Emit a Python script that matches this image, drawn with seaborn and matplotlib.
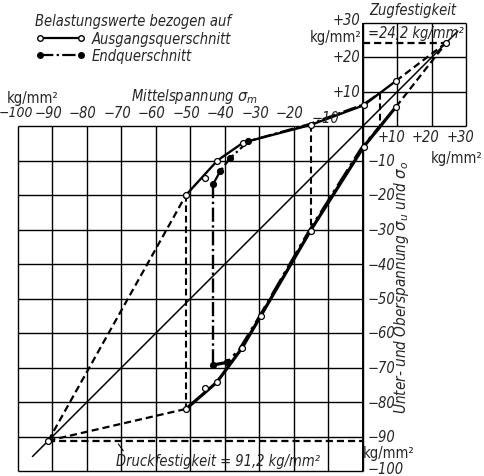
"""
Dauerfestigkeitsschaubild: Mittelspannung gegen Unter- und Oberspannung,
Belastungswerte bezogen auf Ausgangs- und Endquerschnitt.
"""

import matplotlib
matplotlib.use('Agg')
import matplotlib.pyplot as plt
from matplotlib.lines import Line2D
from matplotlib.font_manager import FontProperties
import pandas as pd
import seaborn as sns

# grid and tick values [kg/mm2]
grid_main = list(range(-100, 1, 10))
grid_box = [0, 10, 20, 30]
top_labels = [-100, -90, -80, -70, -60, -50, -40, -30, -20, -10]
right_labels = [-10, -20, -30, -40, -50, -60, -70, -80, -90, -100]
box_labels = [10, 20, 30]

druck = 91.2   # Druckfestigkeit
zug = 24.2     # Zugfestigkeit

# mean stress line
mittel = [-95.8, 27.5]

# Ausgangsquerschnitt, upper stress
aus_up_line_x = [-51.3, -42.2, -34.7, -15.2, 0.2, 9.6]
aus_up_line_y = [-20.0, -10.0, -4.8, 0.3, 6.0, 13.1]
aus_up_pts_x = [-91.2, -51.3, -45.8, -42.2, -34.7, -15.2, 0.2, 9.6, 24.2]
aus_up_pts_y = [-91.2, -20.0, -15.1, -10.0, -4.8, 0.3, 6.0, 13.1, 24.2]

# Ausgangsquerschnitt, lower stress
aus_lo_line_x = [-51.3, -42.4, -35.1, -15.2, 0.2, 9.6]
aus_lo_line_y = [-82.0, -74.3, -64.4, -30.3, -6.0, 5.6]
aus_lo_pts_x = [-51.3, -45.8, -42.4, -35.1, -29.7, -15.2, 0.2, 9.6]
aus_lo_pts_y = [-82.0, -76.0, -74.3, -64.4, -55.2, -30.3, -6.0, 5.6]

# Endquerschnitt
end_up_x = [-43.4, -41.4, -38.6, -33.2, -15.4, 0.0, 4.8]
end_up_y = [-16.8, -13.1, -9.4, -4.4, 0.6, 6.2, 9.5]
end_lo_x = [-43.6, -39.3, -35.9, -30.4, -15.9, -0.5, 4.8]
end_lo_y = [-69.3, -68.5, -65.0, -56.0, -31.0, -6.6, -0.3]
end_up_pts = 4
end_lo_pts = 2

FONT = ['DejaVu Sans']
DASH = (0, (3.2, 1.8))
DASHDOT = (0, (6, 1.5, 1, 1.5))


def line(ax, xs, ys, lw=1.6, ls='-'):
    df = pd.DataFrame({'x': xs, 'y': ys})
    sns.lineplot(x='x', y='y', data=df, sort=False, estimator=None, color='black',
                 linewidth=lw, linestyle=ls, ax=ax)


def points(ax, xs, ys, filled=False):
    df = pd.DataFrame({'x': xs, 'y': ys})
    sns.scatterplot(x='x', y='y', data=df, s=18, color='black' if filled else 'white',
                    edgecolor='black', linewidth=0.9, zorder=5, ax=ax)


def label(ax, x, y, s, size=10.5, italic=True, **kw):
    ax.text(x, y, s, fontsize=size, family=FONT, stretch='condensed',
            style='italic' if italic else 'normal', **kw)


sns.set_theme(style='white')
fig = plt.figure(figsize=(4.85, 4.77), dpi=100)
ax = fig.add_axes([0, 0, 1, 1])
ax.set_xlim(-363 / 3.45, (485 - 363) / 3.45)
ax.set_ylim((127 - 477) / 3.45, 127 / 3.45)
ax.axis('off')

# grid
ax.vlines(grid_main, -100, 0, color='black', lw=1.0)
ax.hlines(grid_main, -100, 0, color='black', lw=1.0)
ax.vlines(grid_box, 0, 30, color='black', lw=1.0)
ax.hlines(grid_box, 0, 30, color='black', lw=1.0)
ax.vlines([0], -100, 30, color='black', lw=1.4)

# mean stress line
line(ax, mittel, mittel, lw=1.1)

# Ausgangsquerschnitt
line(ax, [-druck, aus_up_line_x[0]], [-druck, aus_up_line_y[0]], ls=DASH)
line(ax, [-druck, aus_lo_line_x[0]], [-druck, aus_lo_line_y[0]], ls=DASH)
line(ax, aus_up_line_x, aus_up_line_y, lw=1.7)
line(ax, aus_lo_line_x, aus_lo_line_y, lw=2.3)
line(ax, [aus_up_line_x[-1], zug], [aus_up_line_y[-1], zug], ls=DASH)
line(ax, [aus_lo_line_x[-1], zug], [aus_lo_line_y[-1], zug], ls=DASH)
line(ax, [aus_up_line_x[0]] * 2, [aus_up_line_y[0], aus_lo_line_y[0]], lw=1.5, ls=DASH)
line(ax, [aus_up_line_x[3]] * 2, [aus_up_line_y[3], aus_lo_line_y[3]], lw=1.5, ls=DASH)
line(ax, [end_up_x[-1]] * 2, [end_up_y[-1], end_lo_y[-1]], lw=1.5, ls=DASH)

# strength lines
line(ax, [-druck, 0], [-druck, -druck], ls=DASH)
line(ax, [0, zug], [zug, zug], ls=DASH)

# Endquerschnitt
line(ax, end_up_x, end_up_y, ls=DASHDOT)
line(ax, end_lo_x, end_lo_y, lw=2.3, ls=DASHDOT)
line(ax, [end_up_x[0]] * 2, [end_up_y[0], end_lo_y[0]], lw=1.7, ls=DASHDOT)

points(ax, aus_up_pts_x, aus_up_pts_y)
points(ax, aus_lo_pts_x, aus_lo_pts_y)
points(ax, end_up_x[:end_up_pts], end_up_y[:end_up_pts], filled=True)
points(ax, end_lo_x[:end_lo_pts], end_lo_y[:end_lo_pts], filled=True)
ax.set_xlabel('')
ax.set_ylabel('')

# legend
handles = [Line2D([], [], color='black', lw=1.6, marker='o', ms=4, mfc='white', mec='black'),
           Line2D([], [], color='black', lw=1.6, ls=DASHDOT, marker='o', ms=4, mfc='black', mec='black')]
fp = FontProperties(family=FONT, style='italic', stretch='condensed', size=10.5)
leg = ax.legend(handles, ['Ausgangsquerschnitt', 'Endquerschnitt'], title='Belastungswerte bezogen auf',
                loc='upper left', bbox_to_anchor=(0.058, 0.985), frameon=False, numpoints=2,
                handlelength=3.4, handletextpad=0.4, labelspacing=0.15, borderpad=0, prop=fp,
                title_fontproperties=fp)
leg._legend_box.align = 'center'

# axis texts
label(ax, -95.7, 8.4, 'kg/mm²', italic=False, ha='center', va='center')
label(ax, -49.0, 8.7, r'Mittelspannung $\sigma_m$', ha='center', va='center')
for v in top_labels:
    if v == -10:
        label(ax, v - 0.8, 2.6, '−10', ha='center', va='center')
    elif v == -100:
        label(ax, -100.6, 4.0, '−100', size=10, ha='center', va='center')
    else:
        label(ax, v - 1.2, 4.0, '−%d' % -v, ha='center', va='center')
for v in box_labels:
    yv = 30.9 if v == 30 else v
    label(ax, -0.9, yv, '+%d' % v, ha='right', va='center')
    label(ax, v - 1.8, -3.0, '+%d' % v, ha='center', va='center')
label(ax, -0.3, 25.9, 'kg/mm²', italic=False, ha='right', va='center')
label(ax, 27.0, -9.0, 'kg/mm²', italic=False, ha='center', va='center')
for v in right_labels:
    yv = -99.2 if v == -100 else v
    label(ax, 1.3, yv, '−%d' % -v, ha='left', va='center')
label(ax, 0.0, -94.5, 'kg/mm²', italic=False, ha='left', va='center')

label(ax, 14.5, 33.9, 'Zugfestigkeit', ha='center', va='center')
label(ax, 15.3, 27.2, '=%s kg/mm²' % str(zug).replace('.', ','), ha='center', va='center')
label(ax, -42.0, -97.1, 'Druckfestigkeit = %s kg/mm²' % str(druck).replace('.', ','),
      ha='center', va='center')
ax.annotate('', xy=(-71.4, -91.5), xytext=(-69.0, -94.8),
            arrowprops=dict(arrowstyle='-', color='black', lw=0.8))
label(ax, 11.3, -46.5, r'Unter- und Oberspannung $\sigma_u$ und $\sigma_o$', size=11, rotation=90,
      ha='center', va='center')

fig.savefig('out.png', dpi=100)
